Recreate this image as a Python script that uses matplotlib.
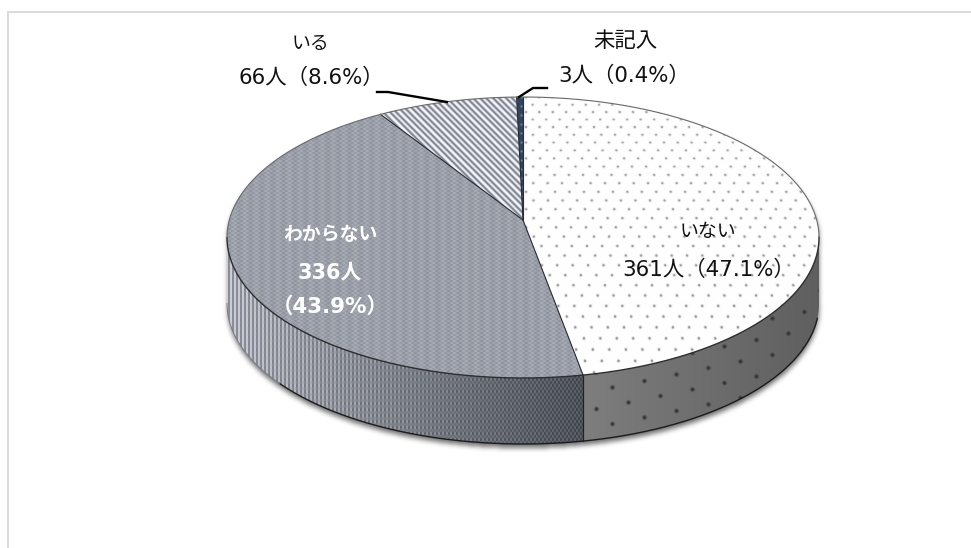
import numpy as np
import matplotlib
matplotlib.use("Agg")
import matplotlib.pyplot as plt
from matplotlib.patches import Polygon

# Survey responses, clockwise from twelve o'clock
categories = ["いない", "わからない", "いる", "未記入"]
counts = [361, 336, 66, 3]
percent_labels = ["47.1%", "43.9%", "8.6%", "0.4%"]

W, H = 971, 548
CX, K, PERSP, SY, CY = 523.0, 293.7, 0.1246, -110.9, 220.0
DEPTH = 66.0

plt.rcParams["font.family"] = ["DejaVu Sans", "Noto Sans CJK JP"]


def project(theta_deg, drop=0.0):
    """Clockwise pie angle on the tilted disc to canvas coordinates."""
    t = np.radians(theta_deg)
    u, v = np.sin(t), np.cos(t)
    d = 1 + PERSP * v
    return CX + K * u / d, (SY * v + CY) / d + drop


def unproject(X, Y):
    v = (Y - CY) / (SY - PERSP * Y)
    u = (X - CX) * (1 + PERSP * v) / K
    return u, v


def box_blur(a, r, passes=3):
    kernel = np.ones(2 * r + 1) / (2 * r + 1)
    out = a.astype(float)
    for _ in range(passes):
        out = np.apply_along_axis(lambda m: np.convolve(m, kernel, mode="same"), 0, out)
        out = np.apply_along_axis(lambda m: np.convolve(m, kernel, mode="same"), 1, out)
    return out


def soften(img):
    kernel = np.array([0.2, 0.6, 0.2])
    out = img.copy()
    for ch in range(3):
        out[..., ch] = np.apply_along_axis(lambda m: np.convolve(m, kernel, mode="same"), 0, out[..., ch])
        out[..., ch] = np.apply_along_axis(lambda m: np.convolve(m, kernel, mode="same"), 1, out[..., ch])
    return out


def mix(mask, a, b):
    a, b = np.array(a, float), np.array(b, float)
    return a + (b - a) * mask[..., None]


def lattice_dots(px, py, ax_, ay_, bx_, by_, radius):
    """0..1 coverage of round dots on the lattice spanned by two vectors."""
    det = ax_ * by_ - ay_ * bx_
    s = (px * by_ - py * bx_) / det
    t = (py * ax_ - px * ay_) / det
    ds, dt = s - np.round(s), t - np.round(t)
    ex = ds * ax_ + dt * bx_
    ey = ds * ay_ + dt * by_
    return np.clip((radius - np.hypot(ex, ey)) / 0.9 + 0.5, 0, 1)


Y, X = np.mgrid[0:H, 0:W].astype(float)
U, V = unproject(X, Y + 0.5)

# Surface textures: the dot grid follows the disc so it widens towards the viewer
scale = K / (1 + PERSP * V)
s = (U - 0.085) / 0.0505 - ((V - 0.93) / 0.0655) / 2
t = (V - 0.93) / 0.0655
ds, dt = s - np.round(s), t - np.round(t)
ex = (ds + dt / 2) * 0.0505 * scale
ey = dt * 0.0655 * 150
dots = np.clip((1.1 - np.hypot(ex, ey)) / 0.9 + 0.5, 0, 1)
tex_none = soften(mix(dots, (254, 254, 254), (105, 105, 110)))

fine = (((X + Y) % 2) * 0.75 + ((X // 3 + Y // 2) % 2) * 0.25)
band = 0.5 + 0.5 * np.sin(X * 2 * np.pi / 11.0)
tex_unknown = soften(mix(np.clip(fine * 0.92 + band * 0.08, 0, 1), (92, 98, 114), (218, 221, 225)))

stripes = ((X - Y) % 6.5 < 3.2).astype(float)
tex_yes = soften(mix(stripes, (112, 120, 138), (250, 250, 250)))

speck = lattice_dots(X - 521, Y - 106, 0.0, 9.0, 5.0, 4.5, 0.8)
tex_blank = soften(mix(speck, (47, 68, 95), (190, 200, 210)))

side_grad = 118 + 26 * np.clip(np.abs(X - 640) / 180.0, 0, 1) * np.where(X < 640, 1.0, -0.9)
side_dots = lattice_dots(X - 612, Y - 387, 32.0, -6.5, 16.0, 15.0, 2.0)
tex_side_none = np.stack([side_grad] * 3, axis=-1)
tex_side_none = soften(tex_side_none + (np.array([52.0, 52.0, 52.0]) - tex_side_none) * side_dots[..., None])

lightness = np.clip((X - 230) / 350.0, 0, 1)
vertical = ((X // 2) % 2).astype(float)
checker = ((X // 2 + Y // 3) % 2).astype(float)
pattern = vertical * (1 - lightness) + checker * lightness
dark_col = np.stack([115 - 65 * lightness, 120 - 65 * lightness, 132 - 68 * lightness], axis=-1)
light_col = np.stack([225 - 120 * lightness, 228 - 120 * lightness, 232 - 118 * lightness], axis=-1)
tex_side_unknown = soften(dark_col + (light_col - dark_col) * pattern[..., None])

# Soft shadow around the whole solid
inside = (U ** 2 + V ** 2) <= 1
Ud, Vd = unproject(X, Y + 0.5 - DEPTH)
inside_low = (Ud ** 2 + Vd ** 2) <= 1
hull = inside | inside_low | ((np.abs(X - CX) <= 295) & (Y > 240) & (Y < 305))
shadow = np.roll(box_blur(hull, 2), 4, axis=0)

fig = plt.figure(figsize=(W / 100, H / 100), dpi=100, facecolor="white")
ax = fig.add_axes([0, 0, 1, 1])
ax.set_xlim(0, W)
ax.set_ylim(H, 0)
ax.axis("off")
EXTENT = (0, W, H, 0)

shadow_rgba = np.zeros((H, W, 4))
shadow_rgba[..., :3] = 0.22
shadow_rgba[..., 3] = np.clip(shadow, 0, 1) * 0.72
ax.imshow(shadow_rgba, extent=EXTENT, aspect="auto", interpolation="nearest", zorder=1)


def textured(poly_xy, texture, z):
    patch = Polygon(poly_xy, closed=True, transform=ax.transData, facecolor="none", edgecolor="none")
    ax.add_patch(patch)
    im = ax.imshow(np.clip(texture, 0, 255).astype(np.uint8), extent=EXTENT, aspect="auto",
                   interpolation="nearest", zorder=z)
    im.set_clip_path(patch)


# Wedge spans derived from the counts
total = sum(counts)
edges = np.concatenate([[0.0], np.cumsum(counts) / total * 360.0])
right_limb = np.degrees(np.arccos(-PERSP))
left_limb = 360.0 - right_limb
tops = [tex_none, tex_unknown, tex_yes, tex_blank]

# Rim of the two front wedges
rim_spans = [(right_limb, edges[1], tex_side_none), (edges[1], left_limb, tex_side_unknown)]
for a0, a1, tex in rim_spans:
    th = np.linspace(a0, a1, 160)
    tx, ty = project(th)
    bx, by = project(th[::-1], DEPTH)
    textured(np.column_stack([np.r_[tx, bx], np.r_[ty, by]]), tex, 2)

# Lower rim outline, dark at the front and fading out towards the left
th = np.linspace(right_limb + 6, edges[1] + 60, 200)
bx, by = project(th, DEPTH)
ax.plot(bx, by, color="#1c1c1c", lw=1.0, zorder=4)
th = np.linspace(edges[1] + 60, left_limb, 80)
bx, by = project(th, DEPTH)
ax.plot(bx, by, color="#777b84", lw=0.7, zorder=4)

# Vertical seam between the two rims
sx0, sy0 = project(edges[1])
sx1, sy1 = project(edges[1], DEPTH)
ax.plot([sx0, sx1], [sy0, sy1], color="#222222", lw=0.9, zorder=4)

# Top faces
apex = (CX, CY)
for i, tex in enumerate(tops):
    th = np.linspace(edges[i], edges[i + 1], max(6, int(edges[i + 1] - edges[i]) * 2))
    tx, ty = project(th)
    textured(np.column_stack([np.r_[apex[0], tx], np.r_[apex[1], ty]]), tex, 3)

for e in edges[:-1]:
    ex_, ey_ = project(e)
    ax.plot([apex[0], ex_], [apex[1], ey_], color="#2a2d35", lw=0.8, zorder=4)
th = np.linspace(right_limb, left_limb, 300)
tx, ty = project(th)
ax.plot(tx, ty, color="#2e2e2e", lw=1.0, zorder=4)
th = np.linspace(left_limb, right_limb + 360, 300)
tx, ty = project(th)
ax.plot(tx, ty, color="#6a6a6a", lw=0.8, zorder=4)

# Leader lines
ax.plot([377, 388, 447], [92, 92, 102], color="black", lw=1.7, zorder=5, solid_joinstyle="round")
ax.plot([547, 533, 519], [88, 88, 97], color="black", lw=1.7, zorder=5, solid_joinstyle="round")


# Value labels
def entry(i):
    return f"{counts[i]}人（{percent_labels[i]}）"


KANA, LINE = 13.6, 15.4
ink = "#111111"
ax.text(311, 43, categories[2], ha="center", va="center", fontsize=KANA, color=ink, zorder=6)
ax.text(311, 78, entry(2), ha="center", va="center", fontsize=LINE, color=ink, zorder=6)
ax.text(625, 41, categories[3], ha="center", va="center", fontsize=LINE, color=ink, zorder=6)
ax.text(624, 76, entry(3), ha="center", va="center", fontsize=LINE, color=ink, zorder=6)
ax.text(708, 231, categories[0], ha="center", va="center", fontsize=KANA, color=ink, zorder=6)
ax.text(709, 270, entry(0), ha="center", va="center", fontsize=LINE, color=ink, zorder=6)
ax.text(330, 235, categories[1], ha="center", va="center", fontsize=KANA, color="white", weight="bold", zorder=6)
ax.text(330, 272, f"{counts[1]}人", ha="center", va="center", fontsize=15, color="white", weight="bold", zorder=6)
ax.text(330, 307, f"（{percent_labels[1]}）", ha="center", va="center", fontsize=LINE, color="white", weight="bold", zorder=6)

# Frame fragments along the top and left edges
ax.plot([8.3, 8.3, W], [H, 12.3, 12.3], color="#d9d9d9", lw=1.4, zorder=0, solid_joinstyle="miter")

fig.savefig("out.png", dpi=100, facecolor="white")
